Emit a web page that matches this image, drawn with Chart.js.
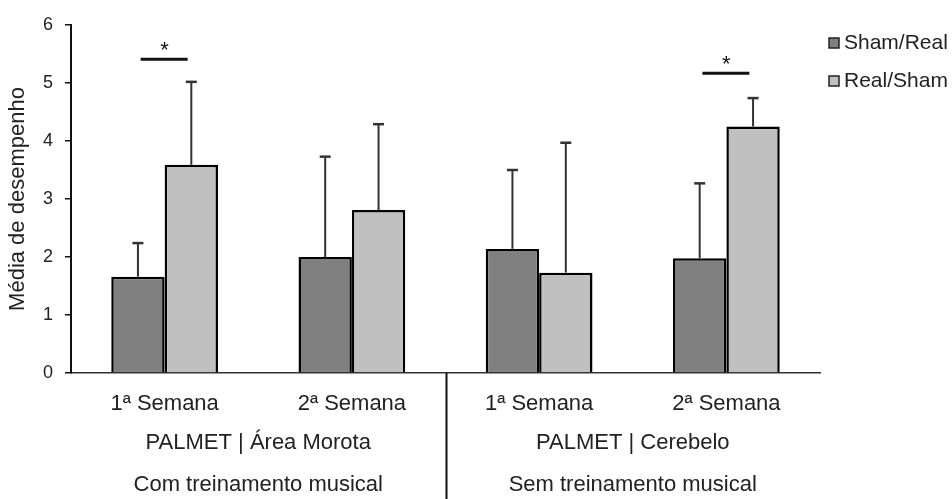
<!DOCTYPE html>
<html>
<head>
<meta charset="utf-8">
<script src="https://cdn.jsdelivr.net/npm/chart.js@4"></script>
<style>
  html, body { margin: 0; padding: 0; background: #fff; }
  #wrap { width: 952px; height: 499px; }
</style>
</head>
<body>
<div id="wrap"><canvas id="chart"></canvas></div>
<script>
const weeks = ['1ª Semana', '2ª Semana', '1ª Semana', '2ª Semana']
const groups = ['PALMET | Área Morota', 'PALMET | Cerebelo']
const conditions = ['Com treinamento musical', 'Sem treinamento musical']
const seriesNames = ['Sham/Real', 'Real/Sham']
const shamReal = [1.66, 2.0, 2.14, 1.98]
const shamRealErr = [2.24, 3.73, 3.5, 3.27]
const realSham = [3.59, 2.81, 1.73, 4.25]
const realShamErr = [5.02, 4.29, 3.97, 4.74]
const sigLevel = [5.41, null, null, 5.17]
const yTicks = [0, 1, 2, 3, 4, 5, 6]

const font = 'Liberation Sans, Arial, sans-serif'
const textColor = '#222'
const fills = ['#808080', '#c0c0c0']

const extras = {
    id: 'extras',
    afterDatasetsDraw(chart) {
        const ctx = chart.ctx
        const x = chart.scales.x
        const y = chart.scales.y
        const errs = [shamRealErr, realShamErr]
        ctx.save()
        // error bars (upper only)
        errs.forEach((arr, d) => {
            chart.getDatasetMeta(d).data.forEach((bar, i) => {
                const top = y.getPixelForValue(arr[i])
                ctx.strokeStyle = '#333'
                ctx.lineWidth = 2
                ctx.beginPath()
                ctx.moveTo(bar.x, bar.y)
                ctx.lineTo(bar.x, top)
                ctx.stroke()
                ctx.lineWidth = 2.5
                ctx.beginPath()
                ctx.moveTo(bar.x - 5.5, top)
                ctx.lineTo(bar.x + 5.5, top)
                ctx.stroke()
            })
        })
        // significance markers
        sigLevel.forEach((v, i) => {
            if (v == null) return
            const cx = x.getPixelForValue(i)
            const py = y.getPixelForValue(v)
            ctx.strokeStyle = '#111'
            ctx.lineWidth = 3
            ctx.beginPath()
            ctx.moveTo(cx - 24, py)
            ctx.lineTo(cx + 23, py)
            ctx.stroke()
            ctx.fillStyle = '#111'
            ctx.font = '22px ' + font
            ctx.textAlign = 'center'
            ctx.textBaseline = 'alphabetic'
            ctx.fillText('*', cx, py - 2)
        })
        // group and condition labels, separator
        const base = x.top
        ctx.fillStyle = textColor
        ctx.font = '22px ' + font
        ctx.textAlign = 'center'
        ctx.textBaseline = 'middle'
        groups.forEach((g, k) => {
            const cx = (x.getPixelForValue(2 * k) + x.getPixelForValue(2 * k + 1)) / 2
            ctx.fillText(g, cx, base + 70)
            ctx.fillText(conditions[k], cx, base + 112)
        })
        const sx = Math.round((x.getPixelForValue(1) + x.getPixelForValue(2)) / 2) + 0.5
        ctx.strokeStyle = '#111'
        ctx.lineWidth = 2
        ctx.beginPath()
        ctx.moveTo(sx, base)
        ctx.lineTo(sx, chart.height)
        ctx.stroke()
        // legend
        ctx.font = '21px ' + font
        ctx.textAlign = 'left'
        seriesNames.forEach((n, i) => {
            const ly = 43 + i * 38
            ctx.fillStyle = fills[i]
            ctx.fillRect(x.right + 9, ly - 5, 10, 10)
            ctx.strokeStyle = '#222'
            ctx.lineWidth = 1.5
            ctx.strokeRect(x.right + 9, ly - 5, 10, 10)
            ctx.fillStyle = textColor
            ctx.fillText(n, x.right + 24, ly)
        })
        ctx.restore()
    }
}

new Chart('chart', {
    type: 'bar',
    data: {
        labels: weeks,
        datasets: [{
            label: seriesNames[0],
            data: shamReal,
            backgroundColor: fills[0],
            borderColor: '#000',
            borderWidth: 2.5,
            borderSkipped: 'bottom'
        }, {
            label: seriesNames[1],
            data: realSham,
            backgroundColor: fills[1],
            borderColor: '#000',
            borderWidth: 2.5,
            borderSkipped: 'bottom'
        }]
    },
    options: {
        responsive: true,
        maintainAspectRatio: false,
        animation: false,
        events: [],
        layout: { padding: { top: 25, right: 132, left: 0, bottom: 0 } },
        datasets: { bar: { barPercentage: 1, categoryPercentage: 0.57 } },
        plugins: { legend: { display: false }, tooltip: { enabled: false } },
        scales: {
            x: {
                grid: { display: false, drawTicks: false },
                border: { color: '#333', width: 1.5 },
                ticks: { color: textColor, font: { family: font, size: 22 }, padding: 18, maxRotation: 0 },
                afterFit(s) { s.height = 126 }
            },
            y: {
                min: 0,
                max: 6,
                afterBuildTicks(s) { s.ticks = yTicks.map(v => ({ value: v })) },
                grid: { drawOnChartArea: false, color: '#111', tickLength: 6, lineWidth: 1.5 },
                border: { color: '#111', width: 2 },
                ticks: { color: textColor, font: { family: font, size: 18 }, padding: 12 },
                title: { display: true, text: 'Média de desempenho', color: textColor, font: { family: font, size: 22 }, padding: { top: 5, bottom: 0 } },
                afterFit(s) { s.width = 71 }
            }
        }
    },
    plugins: [extras]
})
</script>
</body>
</html>
